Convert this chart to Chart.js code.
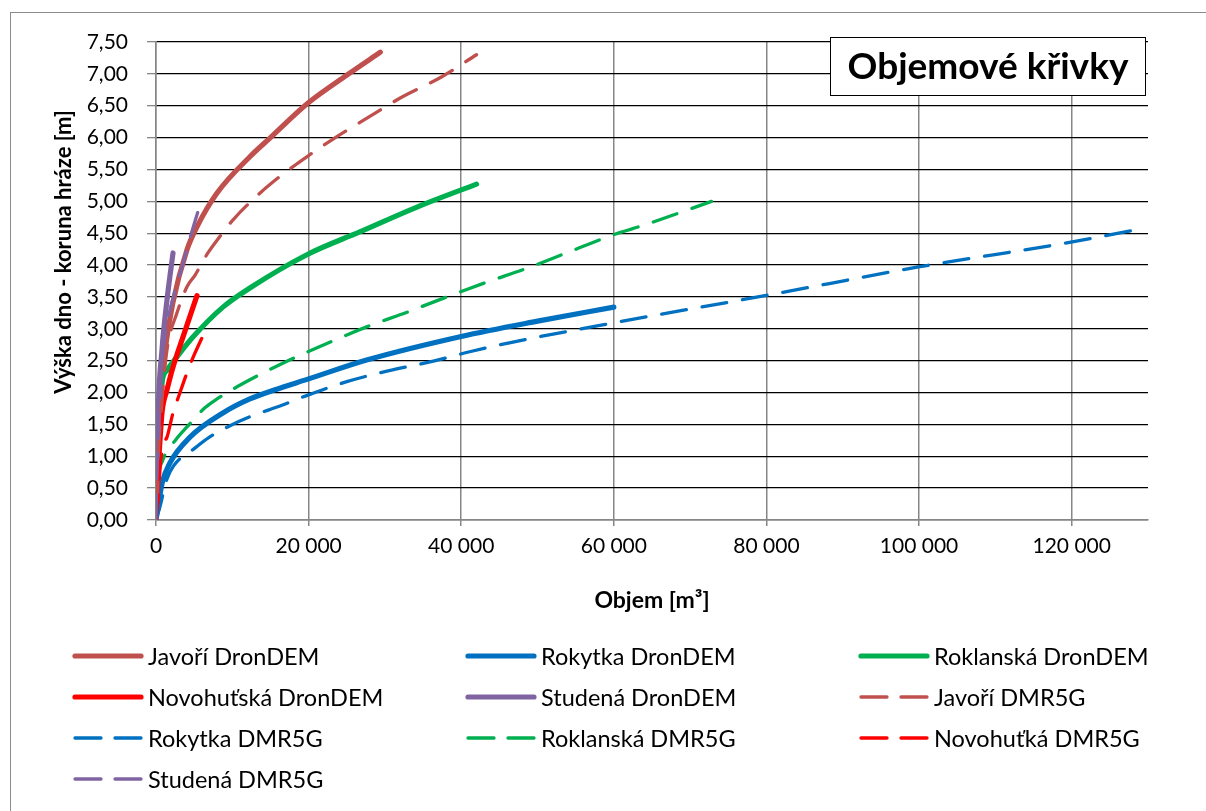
<!DOCTYPE html>
<html>
<head>
<meta charset="utf-8">
<script src="https://cdn.jsdelivr.net/npm/chart.js@4/dist/chart.umd.min.js"></script>
<style>
html, body { margin: 0; padding: 0; background: #fff; }
#wrap { position: relative; width: 1206px; height: 811px; }
</style>
</head>
<body>
<div id="wrap"><canvas id="chart" width="1206" height="811"></canvas></div>
<script>
// axis ticks
const xTicks = [0, 20000, 40000, 60000, 80000, 100000, 120000];
const yTicks = [0, 0.5, 1, 1.5, 2, 2.5, 3, 3.5, 4, 4.5, 5, 5.5, 6, 6.5, 7, 7.5];

// series names (legend order)
const seriesNames = [
  'Javoří DronDEM', 'Rokytka DronDEM', 'Roklanská DronDEM',
  'Novohuťská DronDEM', 'Studená DronDEM', 'Javoří DMR5G',
  'Rokytka DMR5G', 'Roklanská DMR5G', 'Novohuťká DMR5G', 'Studená DMR5G'
];

// volume [m3] / height [m]
const javoriDronV = [0, 150, 500, 1200, 2200, 4060, 5370, 8000, 12300, 15000, 20000, 25000, 29400];
const javoriDronH = [0, 1.0, 1.8, 2.67, 3.4, 4.24, 4.6, 5.13, 5.7, 6.0, 6.55, 6.98, 7.34];

const rokytkaDronV = [0, 260, 800, 1800, 4450, 8770, 12300, 15500, 19900, 27600, 40000, 50000, 60000];
const rokytkaDronH = [0, 0.2, 0.58, 0.89, 1.3, 1.68, 1.9, 2.04, 2.21, 2.51, 2.88, 3.12, 3.34];

const roklanskaDronV = [0, 100, 300, 785, 1440, 2750, 4840, 8770, 12300, 19900, 26700, 34200, 42000];
const roklanskaDronH = [0, 0.5, 1.2, 2.15, 2.35, 2.56, 2.87, 3.34, 3.64, 4.17, 4.52, 4.91, 5.27];

const novohutskaDronV = [0, 150, 300, 550, 800, 1440, 2230, 3530, 5370];
const novohutskaDronH = [0, 0.3, 0.8, 1.3, 1.7, 2.04, 2.4, 2.87, 3.52];

const studenaDronV = [0, 100, 260, 785, 1440, 2230];
const studenaDronH = [0, 0.5, 1.6, 2.67, 3.45, 4.19];

const javoriDmrV = [0, 300, 800, 1440, 2750, 4060, 5100, 6800, 8000, 10100, 13350, 15600, 18600, 19900, 23000, 27700, 32300, 37400, 42000];
const javoriDmrH = [0, 1.0, 1.9, 2.67, 3.25, 3.66, 3.84, 4.19, 4.39, 4.71, 5.1, 5.33, 5.6, 5.71, 5.96, 6.31, 6.64, 6.95, 7.3];

const rokytkaDmrV = [0, 500, 1400, 2300, 4800, 7000, 9700, 12300, 16500, 19900, 25000, 30400, 35900, 41100, 46300, 59800, 79800, 99900, 119900, 128300];
const rokytkaDmrH = [0, 0.2, 0.63, 0.85, 1.1, 1.3, 1.48, 1.62, 1.8, 1.96, 2.17, 2.34, 2.48, 2.64, 2.78, 3.09, 3.52, 3.97, 4.36, 4.55];

const roklanskaDmrV = [0, 100, 900, 2600, 4060, 6400, 8000, 12300, 17500, 19900, 27600, 32900, 38100, 43300, 48600, 53800, 59800, 64300, 72800];
const roklanskaDmrH = [0, 0.4, 0.94, 1.26, 1.46, 1.76, 1.9, 2.2, 2.51, 2.64, 3.03, 3.26, 3.5, 3.73, 3.95, 4.19, 4.47, 4.64, 5.0];

const novohutkaDmrV = [0, 300, 600, 1000, 1440, 2230, 3000, 4060, 4710, 6300];
const novohutkaDmrH = [0, 0.4, 0.9, 1.2, 1.3, 1.68, 1.95, 2.31, 2.51, 2.93];

const studenaDmrV = [0, 100, 300, 600, 900, 1500, 2500, 3500, 4500, 5600];
const studenaDmrH = [0, 0.6, 1.3, 2.0, 2.6, 3.1, 3.6, 4.0, 4.44, 4.88];

const colors = {
  javori: '#C0504D', rokytka: '#0070C0', roklanska: '#00B050',
  novohutska: '#FF0000', studena: '#8064A2'
};

function pts(v, h) {
  return v.map((x, i) => ({ x: x, y: h[i] }));
}

const seriesList = [
  [javoriDronV, javoriDronH, colors.javori, false],
  [rokytkaDronV, rokytkaDronH, colors.rokytka, false],
  [roklanskaDronV, roklanskaDronH, colors.roklanska, false],
  [novohutskaDronV, novohutskaDronH, colors.novohutska, false],
  [studenaDronV, studenaDronH, colors.studena, false],
  [javoriDmrV, javoriDmrH, colors.javori, true],
  [rokytkaDmrV, rokytkaDmrH, colors.rokytka, true],
  [roklanskaDmrV, roklanskaDmrH, colors.roklanska, true],
  [novohutkaDmrV, novohutkaDmrH, colors.novohutska, true],
  [studenaDmrV, studenaDmrH, colors.studena, true]
];

const DASH = [25, 16];

const datasets = seriesList.map((s, i) => ({
  label: seriesNames[i],
  data: pts(s[0], s[1]),
  borderColor: s[2],
  backgroundColor: s[2],
  borderWidth: s[3] ? 3.3 : 5.2,
  borderDash: s[3] ? DASH : [],
  borderDashOffset: i === 5 ? 14 : 0,
  borderCapStyle: 'round',
  borderJoinStyle: 'round',
  showLine: true,
  pointRadius: 0,
  pointHoverRadius: 0,
  cubicInterpolationMode: 'monotone',
  order: 20 - i   // later series on top, like the original
}));

const FONT = 'Lato, "Open Sans", sans-serif';

function fmtThousands(v) {
  return String(v).replace(/\B(?=(\d{3})+(?!\d))/g, ' ');
}

// frame, title box, y title and legend
const extras = {
  id: 'extras',
  beforeDraw(chart) {
    const ctx = chart.ctx;
    ctx.save();
    ctx.fillStyle = '#fff';
    ctx.fillRect(0, 0, chart.width, chart.height);
    ctx.strokeStyle = '#8c8c8c';
    ctx.lineWidth = 1;
    ctx.strokeRect(10.5, 12.5, chart.width + 20, chart.height + 20);
    ctx.restore();
  },
  afterDraw(chart) {
    const ctx = chart.ctx;
    ctx.save();

    // y axis title
    ctx.fillStyle = '#000';
    ctx.font = 'bold 22px ' + FONT;
    ctx.textAlign = 'center';
    ctx.textBaseline = 'middle';
    ctx.translate(64, 252);
    ctx.rotate(-Math.PI / 2);
    ctx.fillText('Výška dno - koruna hráze [m]', 0, 0);
    ctx.setTransform(1, 0, 0, 1, 0, 0);

    // title box
    ctx.fillStyle = '#fff';
    ctx.fillRect(830, 37, 315, 58);
    ctx.strokeStyle = '#000';
    ctx.lineWidth = 1;
    ctx.strokeRect(830.5, 37.5, 315, 58);
    ctx.fillStyle = '#000';
    ctx.font = 'bold 37px ' + FONT;
    ctx.textAlign = 'center';
    ctx.textBaseline = 'middle';
    ctx.fillText('Objemové křivky', 988, 67);

    // legend, 3 columns
    const colLine = [73, 466, 859];
    const rowY = [656, 697, 738, 779];
    ctx.font = '23.5px ' + FONT;
    ctx.textAlign = 'left';
    chart.data.datasets.forEach((ds, i) => {
      const c = i % 3, r = Math.floor(i / 3);
      const x0 = colLine[c], y = rowY[r];
      ctx.beginPath();
      ctx.strokeStyle = ds.borderColor;
      ctx.lineWidth = ds.borderDash.length ? 3.3 : 5.2;
      ctx.lineCap = 'round';
      ctx.setLineDash(ds.borderDash.length ? [26, 14] : []);
      ctx.moveTo(x0 + 2, y);
      ctx.lineTo(x0 + 68, y);
      ctx.stroke();
      ctx.setLineDash([]);
      ctx.fillStyle = '#000';
      ctx.fillText(ds.label, x0 + 75, y + 1);
    });
    ctx.restore();
  }
};

new Chart(document.getElementById('chart'), {
  type: 'scatter',
  data: { datasets: datasets },
  options: {
    responsive: false,
    animation: false,
    layout: { padding: { left: 10, top: 42, right: 58, bottom: 191 } },
    plugins: {
      legend: { display: false },
      tooltip: { enabled: false }
    },
    scales: {
      x: {
        type: 'linear',
        min: 0,
        max: 130000,
        afterFit: s => { s.height = 100; },
        afterBuildTicks: s => { s.ticks = xTicks.map(v => ({ value: v })); },
        grid: { color: '#868686', lineWidth: 1.5, tickLength: 6, tickColor: '#868686' },
        border: { color: '#868686', width: 1.5 },
        ticks: {
          color: '#000',
          padding: 8,
          font: { family: FONT, size: 21 },
          maxRotation: 0,
          callback: v => fmtThousands(v)
        },
        title: {
          display: true,
          text: 'Objem [m³]',
          color: '#000',
          font: { family: FONT, size: 23, weight: 'bold' },
          padding: { top: 0, bottom: 6 }
        }
      },
      y: {
        type: 'linear',
        min: 0,
        max: 7.5,
        afterFit: s => { s.width = 146; },
        afterBuildTicks: s => { s.ticks = yTicks.map(v => ({ value: v })); },
        grid: { color: '#000', lineWidth: 1.3, tickLength: 9, tickColor: '#868686' },
        border: { color: '#868686', width: 1.5 },
        ticks: {
          color: '#000',
          padding: 19,
          font: { family: FONT, size: 21 },
          callback: v => v.toFixed(2).replace('.', ',')
        }
      }
    }
  },
  plugins: [extras]
});
</script>
</body>
</html>
